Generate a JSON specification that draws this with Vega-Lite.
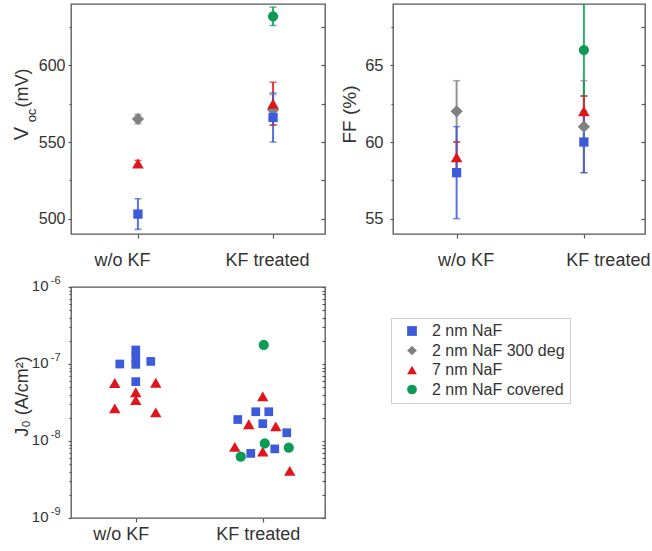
{
  "$schema": "https://vega.github.io/schema/vega-lite/v6.json",
  "padding": {"left": 10, "top": 3, "right": 0, "bottom": 0},
  "columns": 2,
  "spacing": {"row": 53, "column": 68},
  "bounds": "flush",
  "config": {
    "font": "Liberation Sans",
    "view": {"stroke": "#555", "strokeWidth": 1.3},
    "axis": {"grid": false, "domain": false, "labelColor": "#333", "titleColor": "#333", "tickColor": "#555", "tickWidth": 1.2, "titleFontWeight": "normal", "labelFont": "Liberation Sans", "titleFont": "Liberation Sans"}
  },
  "resolve": {
    "scale": {"color": "independent", "shape": "independent"},
    "legend": {"color": "independent", "shape": "independent"}
  },
  "datasets": {
    "voc": [
      {"treatment": "w/o KF", "series": "2 nm NaF 300 deg", "value": 565, "lo": 562, "hi": 568},
      {"treatment": "w/o KF", "series": "7 nm NaF", "value": 536, "lo": 534, "hi": 538},
      {"treatment": "w/o KF", "series": "2 nm NaF", "value": 503, "lo": 493, "hi": 513},
      {"treatment": "KF treated", "series": "2 nm NaF 300 deg", "value": 571, "lo": 561, "hi": 581},
      {"treatment": "KF treated", "series": "7 nm NaF", "value": 575, "lo": 561, "hi": 589},
      {"treatment": "KF treated", "series": "2 nm NaF covered", "value": 632, "lo": 626, "hi": 638},
      {"treatment": "KF treated", "series": "2 nm NaF", "value": 566, "lo": 550, "hi": 582}
    ],
    "ff": [
      {"treatment": "w/o KF", "series": "2 nm NaF 300 deg", "value": 62, "lo": 60, "hi": 64},
      {"treatment": "w/o KF", "series": "7 nm NaF", "value": 59, "lo": 58, "hi": 60},
      {"treatment": "w/o KF", "series": "2 nm NaF", "value": 58, "lo": 55, "hi": 61},
      {"treatment": "KF treated", "series": "2 nm NaF 300 deg", "value": 61, "lo": 58, "hi": 64},
      {"treatment": "KF treated", "series": "7 nm NaF", "value": 62, "lo": 61, "hi": 63},
      {"treatment": "KF treated", "series": "2 nm NaF covered", "value": 66, "lo": 63, "hi": 70},
      {"treatment": "KF treated", "series": "2 nm NaF", "value": 60, "lo": 58, "hi": 62}
    ],
    "j0": [
      {"treatment": "w/o KF", "series": "2 nm NaF", "j0": 1.0e-7, "jitter": -16},
      {"treatment": "w/o KF", "series": "2 nm NaF", "j0": 1.52e-7, "jitter": 0},
      {"treatment": "w/o KF", "series": "2 nm NaF", "j0": 1.22e-7, "jitter": 0},
      {"treatment": "w/o KF", "series": "2 nm NaF", "j0": 0.99e-7, "jitter": 0},
      {"treatment": "w/o KF", "series": "2 nm NaF", "j0": 1.08e-7, "jitter": 15},
      {"treatment": "w/o KF", "series": "2 nm NaF", "j0": 5.9e-8, "jitter": 0},
      {"treatment": "w/o KF", "series": "7 nm NaF", "j0": 5.66e-8, "jitter": -21},
      {"treatment": "w/o KF", "series": "7 nm NaF", "j0": 5.7e-8, "jitter": 20},
      {"treatment": "w/o KF", "series": "7 nm NaF", "j0": 4.3e-8, "jitter": 0},
      {"treatment": "w/o KF", "series": "7 nm NaF", "j0": 3.4e-8, "jitter": 0},
      {"treatment": "w/o KF", "series": "7 nm NaF", "j0": 2.65e-8, "jitter": -21},
      {"treatment": "w/o KF", "series": "7 nm NaF", "j0": 2.35e-8, "jitter": 20},
      {"treatment": "KF treated", "series": "2 nm NaF", "j0": 2.4e-8, "jitter": -7},
      {"treatment": "KF treated", "series": "2 nm NaF", "j0": 2.4e-8, "jitter": 6},
      {"treatment": "KF treated", "series": "2 nm NaF", "j0": 1.9e-8, "jitter": -25},
      {"treatment": "KF treated", "series": "2 nm NaF", "j0": 1.68e-8, "jitter": 0},
      {"treatment": "KF treated", "series": "2 nm NaF", "j0": 1.28e-8, "jitter": 24},
      {"treatment": "KF treated", "series": "2 nm NaF", "j0": 7.9e-9, "jitter": 12},
      {"treatment": "KF treated", "series": "2 nm NaF", "j0": 6.9e-9, "jitter": -12},
      {"treatment": "KF treated", "series": "7 nm NaF", "j0": 3.8e-8, "jitter": 0},
      {"treatment": "KF treated", "series": "7 nm NaF", "j0": 1.65e-8, "jitter": -14},
      {"treatment": "KF treated", "series": "7 nm NaF", "j0": 1.55e-8, "jitter": 13},
      {"treatment": "KF treated", "series": "7 nm NaF", "j0": 8.4e-9, "jitter": -28},
      {"treatment": "KF treated", "series": "7 nm NaF", "j0": 7.3e-9, "jitter": 0},
      {"treatment": "KF treated", "series": "7 nm NaF", "j0": 4.1e-9, "jitter": 27},
      {"treatment": "KF treated", "series": "2 nm NaF covered", "j0": 1.77e-7, "jitter": 1},
      {"treatment": "KF treated", "series": "2 nm NaF covered", "j0": 9.3e-9, "jitter": 2},
      {"treatment": "KF treated", "series": "2 nm NaF covered", "j0": 8.2e-9, "jitter": 26},
      {"treatment": "KF treated", "series": "2 nm NaF covered", "j0": 6.25e-9, "jitter": -22}
    ]
  },
  "concat": [
    {
      "width": 254, "height": 230,
      "data": {"name": "voc"},
      "encoding": {
        "x": {"field": "treatment", "type": "nominal", "sort": ["w/o KF", "KF treated"],
          "scale": {"type": "point", "domain": ["w/o KF", "KF treated"], "padding": 0.44, "align": 0.563},
          "axis": {"title": null, "tickSize": 4, "labelFontSize": 18, "labelPadding": 13, "labelAngle": 0,
            "labelOffset": {"condition": {"test": "datum.value == 'w/o KF'", "value": -16}, "value": -6}}},
        "color": {"field": "series", "type": "nominal", "legend": null,
          "scale": {"domain": ["2 nm NaF", "2 nm NaF 300 deg", "7 nm NaF", "2 nm NaF covered"], "range": ["#3b5bdb", "#808080", "#e0141b", "#0c9a55"]}}
      },
      "resolve": {"axis": {"y": "independent"}},
      "layer": [
        {"mark": {"type": "rule", "strokeWidth": 2, "opacity": 0.85},
          "encoding": {
            "y": {"field": "lo", "type": "quantitative", "scale": {"domain": [490, 640], "nice": false, "zero": false},
              "axis": {"orient": "left", "values": [500, 550, 600], "tickSize": 3, "labelFontSize": 16, "labelPadding": 3,
                "title": "V", "titleFontSize": 20, "titleAngle": 270, "titleAlign": "center", "titleBaseline": "alphabetic", "titleX": -44, "titleY": 129}},
            "y2": {"field": "hi"}}},
        {"mark": {"type": "tick", "thickness": 1.5, "size": 7},
          "encoding": {
            "y": {"field": "lo", "type": "quantitative",
              "axis": {"orient": "left", "values": [525, 575, 625], "tickSize": 2, "labels": false,
                "title": "oc", "titleFontSize": 13, "titleAngle": 270, "titleAlign": "center", "titleBaseline": "alphabetic", "titleX": -36, "titleY": 111}}}},
        {"mark": {"type": "tick", "thickness": 1.5, "size": 7},
          "encoding": {
            "y": {"field": "hi", "type": "quantitative",
              "axis": {"orient": "left", "ticks": false, "labels": false,
                "title": "(mV)", "titleFontSize": 18, "titleAngle": 270, "titleAlign": "center", "titleBaseline": "alphabetic", "titleX": -44, "titleY": 83.5}}}},
        {"mark": {"type": "point", "filled": true, "opacity": 1},
          "encoding": {
            "y": {"field": "value", "type": "quantitative",
              "axis": {"orient": "right", "values": [500, 525, 550, 575, 600, 625], "tickSize": -4, "labels": false, "title": null}},
            "shape": {"field": "series", "type": "nominal", "legend": null,
              "scale": {"domain": ["2 nm NaF", "2 nm NaF 300 deg", "7 nm NaF", "2 nm NaF covered"], "range": ["square", "diamond", "triangle-up", "circle"]}},
            "size": {"condition": [{"test": "datum.series == '2 nm NaF 300 deg'", "value": 150}, {"test": "datum.series == '7 nm NaF'", "value": 135}, {"test": "datum.series == '2 nm NaF covered'", "value": 105}], "value": 86}}}
      ]
    },
    {
      "width": 252, "height": 230,
      "data": {"name": "ff"},
      "encoding": {
        "x": {"field": "treatment", "type": "nominal", "sort": ["w/o KF", "KF treated"],
          "scale": {"type": "point", "domain": ["w/o KF", "KF treated"], "padding": 0.49, "align": 0.51},
          "axis": {"title": null, "tickSize": 4, "labelFontSize": 18, "labelPadding": 13, "labelAngle": 0,
            "labelOffset": {"condition": {"test": "datum.value == 'w/o KF'", "value": 9}, "value": 24}}},
        "color": {"field": "series", "type": "nominal", "legend": null,
          "scale": {"domain": ["2 nm NaF", "2 nm NaF 300 deg", "7 nm NaF", "2 nm NaF covered"], "range": ["#3b5bdb", "#808080", "#e0141b", "#0c9a55"]}}
      },
      "resolve": {"axis": {"y": "independent"}},
      "layer": [
        {"mark": {"type": "rule", "strokeWidth": 2, "opacity": 0.85, "clip": true},
          "encoding": {
            "y": {"field": "lo", "type": "quantitative", "scale": {"domain": [54, 69], "nice": false, "zero": false},
              "axis": {"orient": "left", "values": [55, 60, 65], "tickSize": 3, "labelFontSize": 16.5, "labelPadding": 7,
                "title": "FF (%)", "titleFontSize": 19, "titleAngle": 270, "titleAlign": "center", "titleBaseline": "alphabetic", "titleX": -38, "titleY": 110}},
            "y2": {"field": "hi"}}},
        {"mark": {"type": "tick", "thickness": 1.5, "size": 7, "clip": true},
          "encoding": {
            "y": {"field": "lo", "type": "quantitative",
              "axis": {"orient": "left", "values": [57.5, 62.5, 67.5], "tickSize": 2, "labels": false, "title": null}}}},
        {"mark": {"type": "tick", "thickness": 1.5, "size": 7, "clip": true},
          "encoding": {
            "y": {"field": "hi", "type": "quantitative",
              "axis": {"orient": "right", "values": [55, 57.5, 60, 62.5, 65, 67.5], "tickSize": -4, "labels": false, "title": null}}}},
        {"mark": {"type": "point", "filled": true, "opacity": 1},
          "encoding": {
            "y": {"field": "value", "type": "quantitative", "axis": null},
            "shape": {"field": "series", "type": "nominal", "legend": null,
              "scale": {"domain": ["2 nm NaF", "2 nm NaF 300 deg", "7 nm NaF", "2 nm NaF covered"], "range": ["square", "diamond", "triangle-up", "circle"]}},
            "size": {"condition": [{"test": "datum.series == '2 nm NaF 300 deg'", "value": 150}, {"test": "datum.series == '7 nm NaF'", "value": 135}, {"test": "datum.series == '2 nm NaF covered'", "value": 105}], "value": 86}}}
      ]
    },
    {
      "width": 254, "height": 231,
      "data": {"name": "j0"},
      "encoding": {
        "x": {"field": "treatment", "type": "nominal", "sort": ["w/o KF", "KF treated"],
          "scale": {"type": "point", "domain": ["w/o KF", "KF treated"], "padding": 0.5, "align": 0.51},
          "axis": {"title": null, "tickSize": 4, "labelFontSize": 18, "labelPadding": 3, "labelAngle": 0,
            "labelOffset": {"condition": {"test": "datum.value == 'w/o KF'", "value": -15}, "value": -5}}},
        "xOffset": {"field": "jitter", "type": "quantitative", "scale": {"domain": [-30, 30], "range": [-30, 30]}},
        "color": {"field": "series", "type": "nominal",
          "scale": {"domain": ["2 nm NaF", "2 nm NaF 300 deg", "7 nm NaF", "2 nm NaF covered"], "range": ["#3b5bdb", "#808080", "#e0141b", "#0c9a55"]},
          "legend": {"orient": "none", "legendX": 320, "legendY": 31, "title": null, "labelFontSize": 16, "labelColor": "#333", "labelFont": "Liberation Sans",
            "strokeColor": "#cccccc", "fillColor": "white", "padding": 5, "symbolOffset": 8, "labelOffset": 12, "rowPadding": 3.5, "symbolStrokeWidth": 0, "symbolSize": 95}},
        "shape": {"field": "series", "type": "nominal",
          "scale": {"domain": ["2 nm NaF", "2 nm NaF 300 deg", "7 nm NaF", "2 nm NaF covered"], "range": ["square", "diamond", "triangle-up", "circle"]},
          "legend": {"orient": "none", "legendX": 320, "legendY": 31, "title": null, "labelFontSize": 16, "labelColor": "#333", "labelFont": "Liberation Sans",
            "strokeColor": "#cccccc", "fillColor": "white", "padding": 5, "symbolOffset": 8, "labelOffset": 12, "rowPadding": 3.5, "symbolStrokeWidth": 0, "symbolSize": 95}}
      },
      "resolve": {"axis": {"y": "independent"}},
      "layer": [
        {"transform": [{"filter": "datum.series == '2 nm NaF'"}],
          "mark": {"type": "point", "filled": true, "opacity": 1, "size": 76},
          "encoding": {
            "y": {"field": "j0", "type": "quantitative", "scale": {"type": "log", "domain": [1e-9, 1e-6], "nice": false},
              "axis": {"orient": "left", "values": [1e-9, 2e-9, 3e-9, 4e-9, 5e-9, 6e-9, 7e-9, 8e-9, 9e-9, 1e-8, 2e-8, 3e-8, 4e-8, 5e-8, 6e-8, 7e-8, 8e-8, 9e-8, 1e-7, 2e-7, 3e-7, 4e-7, 5e-7, 6e-7, 7e-7, 8e-7, 9e-7, 1e-6],
                "tickSize": {"condition": {"test": "abs(log(datum.value)/LN10 - round(log(datum.value)/LN10)) < 0.01", "value": 3}, "value": 2},
                "labelFontSize": 15, "labelPadding": 20, "labelOffset": -2,
                "labelExpr": "abs(log(datum.value)/LN10 - round(log(datum.value)/LN10)) < 0.01 ? '10' : ''",
                "title": "J₀ (A/cm²)", "titleFontSize": 18, "titleAngle": 270, "titleAlign": "center", "titleBaseline": "alphabetic", "titleX": -44, "titleY": 109}}}},
        {"transform": [{"filter": "datum.series == '7 nm NaF'"}],
          "mark": {"type": "point", "filled": true, "opacity": 1, "size": 130},
          "encoding": {
            "y": {"field": "j0", "type": "quantitative",
              "axis": {"orient": "left", "values": [1e-9, 1e-8, 1e-7, 1e-6], "ticks": false, "tickSize": 0, "labelFontSize": 11, "labelPadding": 11, "labelOffset": -7,
                "labelExpr": "'-' + format(-round(log(datum.value)/LN10), 'd')", "title": null}}}},
        {"transform": [{"filter": "datum.series == '2 nm NaF covered'"}],
          "mark": {"type": "point", "filled": true, "opacity": 1, "size": 105},
          "encoding": {
            "y": {"field": "j0", "type": "quantitative",
              "axis": {"orient": "right", "values": [1e-9, 2e-9, 3e-9, 4e-9, 5e-9, 6e-9, 7e-9, 8e-9, 9e-9, 1e-8, 2e-8, 3e-8, 4e-8, 5e-8, 6e-8, 7e-8, 8e-8, 9e-8, 1e-7, 2e-7, 3e-7, 4e-7, 5e-7, 6e-7, 7e-7, 8e-7, 9e-7, 1e-6], "tickSize": -3, "labels": false, "title": null}}}}
      ]
    }
  ]
}
